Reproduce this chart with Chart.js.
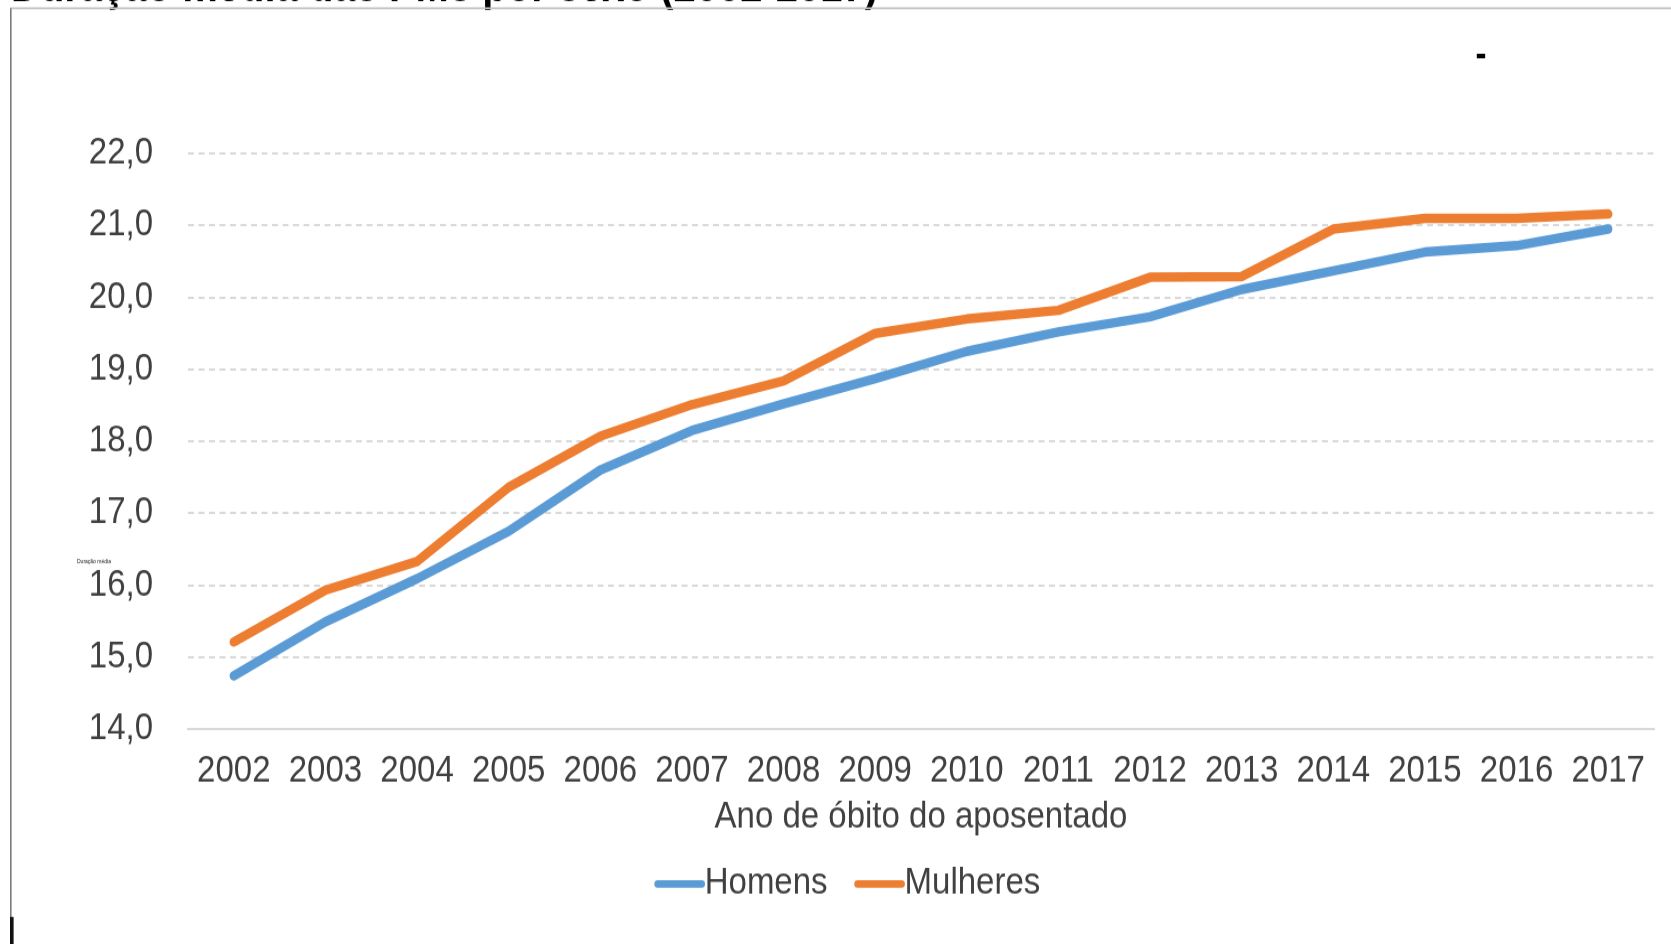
<!DOCTYPE html>
<html lang="pt-BR">
<head>
<meta charset="utf-8">
<title>Duração média das PMs por sexo (2002-2017)</title>
<script src="https://cdn.jsdelivr.net/npm/chart.js@4.4.1/dist/chart.umd.min.js"></script>
<style>
  html, body { margin: 0; padding: 0; background: #ffffff; overflow: hidden; }
</style>
</head>
<body>
<!-- the drawing buffer is slightly shorter than the box: text comes out a little tall, like the original Excel export -->
<canvas id="grafico" width="1671" height="843" style="display:block;width:1671px;height:944px"></canvas>
<script>
// ---- dados ----
const anos = ['2002', '2003', '2004', '2005', '2006', '2007', '2008', '2009',
              '2010', '2011', '2012', '2013', '2014', '2015', '2016', '2017'];
const homens   = [14.74, 15.49, 16.09, 16.75, 17.60, 18.15, 18.52, 18.87,
                  19.25, 19.52, 19.73, 20.11, 20.37, 20.63, 20.72, 20.95];
const mulheres = [15.21, 15.93, 16.33, 17.36, 18.07, 18.51, 18.84, 19.50,
                  19.70, 19.82, 20.28, 20.29, 20.95, 21.10, 21.10, 21.16];
const nomesSeries = ['Homens', 'Mulheres'];
const coresSeries = ['#5B9BD5', '#ED7D31'];
const limitesY = [14, 22];
const passoY = 1;
const tituloGrafico = 'Duração média das PMs por sexo (2002-2017)';
const tituloEixoX = 'Ano de óbito do aposentado';
const rotuloEixoY = 'Duração média';

// ---- aparência ----
const FONTE = '"Liberation Sans", Arial, sans-serif';
const COR_TEXTO = '#404040';
const COR_GRADE = '#d9d9d9';
const fmtY = new Intl.NumberFormat('pt-BR', { minimumFractionDigits: 1, maximumFractionDigits: 1 });

Chart.defaults.font.family = FONTE;
Chart.defaults.color = COR_TEXTO;

// frame, clipped heading and small marks around the plot
const moldura = {
  id: 'moldura',
  beforeDraw(chart) {
    const ctx = chart.ctx;
    ctx.save();
    ctx.fillStyle = '#ffffff';
    ctx.fillRect(0, 0, chart.width, chart.height);

    // heading, mostly cut off by the top edge
    ctx.fillStyle = '#000000';
    ctx.font = 'bold 40px ' + FONTE;
    ctx.textBaseline = 'alphabetic';
    ctx.textAlign = 'left';
    ctx.fillText(tituloGrafico, 11, 0.8);

    // frame lines
    ctx.strokeStyle = '#c4c4c4';
    ctx.lineWidth = 1.6;
    ctx.beginPath();
    ctx.moveTo(10, 7.4);
    ctx.lineTo(chart.width, 7.4);
    ctx.stroke();
    ctx.strokeStyle = '#7a7a7a';
    ctx.lineWidth = 1.6;
    ctx.beginPath();
    ctx.moveTo(10.8, 7.4);
    ctx.lineTo(10.8, chart.height);
    ctx.stroke();
    ctx.fillStyle = '#111111';
    ctx.fillRect(10, 818.8, 3.6, chart.height - 818.8);

    // stray dash at the top right
    ctx.fillStyle = '#000000';
    ctx.font = 'bold 33px ' + FONTE;
    ctx.textAlign = 'center';
    ctx.textBaseline = 'middle';
    ctx.fillText('-', 1481, 49.8);

    // tiny leftover axis caption
    ctx.fillStyle = '#222222';
    ctx.font = '5px ' + FONTE;
    ctx.textAlign = 'left';
    ctx.fillText(rotuloEixoY, 77, 501.5);
    ctx.restore();
  }
};

// legend: short thick line followed directly by the series name
const legenda = {
  id: 'legenda',
  afterDraw(chart) {
    const ctx = chart.ctx;
    const comprimento = 50;
    const intervalo = 27;
    const yCentro = 789.4;
    ctx.save();
    ctx.font = '33px ' + FONTE;
    const itens = chart.data.datasets.map(ds => ({
      nome: ds.label,
      cor: ds.borderColor,
      largura: comprimento + ctx.measureText(ds.label).width
    }));
    const total = itens.reduce((s, it) => s + it.largura, 0) + intervalo * (itens.length - 1);
    let x = 847.5 - total / 2;
    itens.forEach(it => {
      ctx.strokeStyle = it.cor;
      ctx.lineWidth = 6.6;
      ctx.lineCap = 'round';
      ctx.beginPath();
      ctx.moveTo(x + 3, yCentro);
      ctx.lineTo(x + comprimento - 3, yCentro);
      ctx.stroke();
      ctx.fillStyle = COR_TEXTO;
      ctx.textAlign = 'left';
      ctx.textBaseline = 'middle';
      ctx.fillText(it.nome, x + comprimento, yCentro);
      x += it.largura + intervalo;
    });
    ctx.restore();
  }
};

const serie = (i, valores) => ({
  label: nomesSeries[i],
  data: valores,
  borderColor: coresSeries[i],
  backgroundColor: coresSeries[i],
  borderWidth: 8.5,
  borderCapStyle: 'round',
  borderJoinStyle: 'round',
  pointRadius: 0,
  pointHoverRadius: 0,
  tension: 0,
  fill: false
});

new Chart(document.getElementById('grafico'), {
  type: 'line',
  data: {
    labels: anos,
    datasets: [serie(0, homens), serie(1, mulheres)]
  },
  options: {
    responsive: false,
    devicePixelRatio: 1,
    animation: false,
    events: [],
    layout: { padding: { top: 137.1, right: 17, bottom: 93.5, left: 0 } },
    plugins: {
      legend: { display: false },
      title: { display: false },
      tooltip: { enabled: false }
    },
    scales: {
      x: {
        type: 'category',
        offset: true,
        grid: { display: false, drawTicks: false },
        border: { display: true, color: COR_GRADE, width: 2 },
        ticks: {
          color: COR_TEXTO,
          font: { size: 33 },
          padding: 18,
          maxRotation: 0,
          autoSkip: false
        },
        title: {
          display: true,
          text: tituloEixoX,
          color: COR_TEXTO,
          font: { size: 33 },
          padding: { top: 0, bottom: 0 }
        },
        afterFit(scale) { scale.height = 98.5; }
      },
      y: {
        type: 'linear',
        min: limitesY[0],
        max: limitesY[1],
        grid: { color: COR_GRADE, lineWidth: 2, drawTicks: false },
        border: { display: false, dash: [6, 4.5] },
        ticks: {
          stepSize: passoY,
          color: COR_TEXTO,
          font: { size: 33 },
          padding: 35,
          callback: v => fmtY.format(v)
        },
        afterFit(scale) { scale.width = 188; }
      }
    }
  },
  plugins: [moldura, legenda]
});
</script>
</body>
</html>
